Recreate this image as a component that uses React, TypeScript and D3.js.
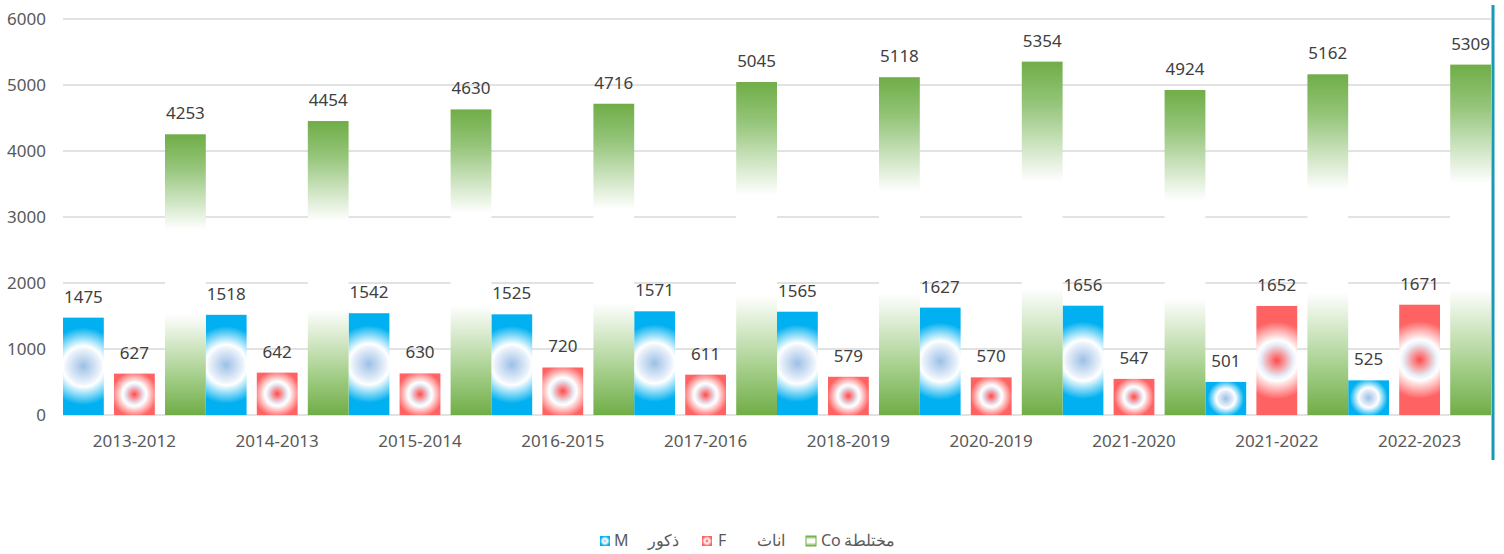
import React from "react";
import * as d3 from "d3";

const categories = ["2013-2012","2014-2013","2015-2014","2016-2015","2017-2016","2018-2019","2020-2019","2021-2020","2021-2022","2022-2023"];
const male = [1475,1518,1542,1525,1571,1565,1627,1656,501,525];
const female = [627,642,630,720,611,579,570,547,1652,1671];
const mixed = [4253,4454,4630,4716,5045,5118,5354,4924,5162,5309];
const yTicks = [0,1000,2000,3000,4000,5000,6000];

const W = 1504, H = 554;
const left = 63, right = 1491, top = 19, bottom = 415;
const FONT = "'Noto Sans', sans-serif";

export default function App() {
  const x = d3.scaleBand<string>().domain(categories).range([left, right]).paddingInner(0).paddingOuter(0);
  const y = d3.scaleLinear().domain([0, 6000]).range([bottom, top]);
  const bw = x.bandwidth();
  const w = bw / 3.5;
  const step = w * 1.25;

  const series = [
    { key: "m", values: male, kind: "radial", center: "#9cc0e6", outer: "#00b0f0" },
    { key: "f", values: female, kind: "radial", center: "#ff4a4a", outer: "#ff6262" },
    { key: "c", values: mixed, kind: "linear", center: "#ffffff", outer: "#70ad47" },
  ];

  const defs: any[] = [
    <linearGradient key="gl" id="greenGrad" x1="0" y1="0" x2="0" y2="1">
      <stop offset="0" stopColor="#70ad47" />
      <stop offset="0.12" stopColor="#95c57a" />
      <stop offset="0.34" stopColor="#ffffff" />
      <stop offset="0.64" stopColor="#ffffff" />
      <stop offset="0.86" stopColor="#a5cf8b" />
      <stop offset="1" stopColor="#70ad47" />
    </linearGradient>,
  ];
  const bars: any[] = [];
  const labels: any[] = [];

  series.forEach((s, si) => {
    s.values.forEach((v, i) => {
      const bx = (x(categories[i]) as number) + si * step;
      const by = y(v);
      const h = bottom - by;
      let fill = "url(#greenGrad)";
      if (s.kind === "radial") {
        const id = `rg-${s.key}-${i}`;
        const ringR = Math.min(w / 2, h * 0.29);
        const R = ringR * 1.9;
        defs.push(
          <radialGradient key={id} id={id} gradientUnits="userSpaceOnUse" cx={bx + w / 2} cy={by + h / 2} r={R}>
            <stop offset="0" stopColor={s.center} />
            <stop offset={ringR / R * 0.8} stopColor="#e8f0fa" stopOpacity="1" />
            <stop offset={ringR / R} stopColor="#ffffff" />
            <stop offset="1" stopColor={s.outer} />
          </radialGradient>
        );
        fill = `url(#${id})`;
      }
      bars.push(<rect key={`b-${s.key}-${i}`} x={bx} y={by} width={w} height={h} fill={fill} />);
      labels.push(
        <text key={`l-${s.key}-${i}`} x={bx + w / 2} y={by - 15} textAnchor="middle" fontSize={17} fill="#404040" fontFamily={FONT}>
          {v}
        </text>
      );
    });
  });

  return (
    <svg width={W} height={H} style={{ position: "absolute", left: 0, top: 0, background: "#fff" }}>
      <defs>{defs}</defs>
      {yTicks.map((t) => (
        <g key={t}>
          <line x1={left} x2={right} y1={y(t)} y2={y(t)} stroke="#d9d9d9" strokeWidth={1.5} />
          <text x={46} y={y(t) + 6} textAnchor="end" fontSize={17} fill="#595959" fontFamily={FONT}>{t}</text>
        </g>
      ))}
      {bars}
      {labels}
      {categories.map((c) => (
        <text key={c} x={(x(c) as number) + bw / 2} y={447} textAnchor="middle" fontSize={17} fill="#595959" fontFamily={FONT}>{c}</text>
      ))}
      <line x1={1493} x2={1493} y1={5} y2={460} stroke="#1899b8" strokeWidth={3} />
      <g fontFamily={FONT} fontSize={16} fill="#595959">
        <rect x={600} y={536} width={10} height={10} fill="url(#legM)" />
        <text x={614} y={546}>M</text>
        <text x={648} y={546}>ذكور</text>
        <rect x={702} y={536} width={10} height={10} fill="url(#legF)" />
        <text x={718} y={546}>F</text>
        <text x={757} y={546}>اناث</text>
        <rect x={806} y={536} width={10} height={10} fill="url(#greenGrad)" stroke="#70ad47" strokeWidth={1} />
        <text x={821} y={546}>Co</text>
        <text x={844} y={546}>مختلطة</text>
      </g>
      <defs>
        <radialGradient id="legM"><stop offset="0" stopColor="#9cc0e6" /><stop offset="0.45" stopColor="#fff" /><stop offset="1" stopColor="#00b0f0" /></radialGradient>
        <radialGradient id="legF"><stop offset="0" stopColor="#ff4a4a" /><stop offset="0.45" stopColor="#fff" /><stop offset="1" stopColor="#ff6262" /></radialGradient>
      </defs>
    </svg>
  );
}
